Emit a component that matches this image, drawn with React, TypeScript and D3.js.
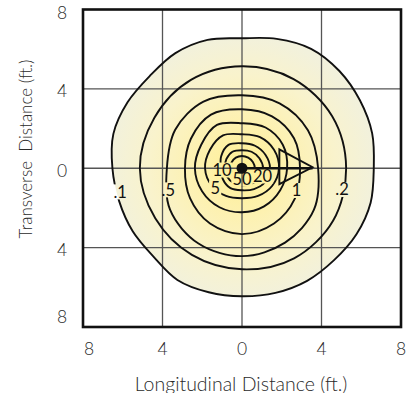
import React from 'react';
import * as d3 from 'd3';

const W = 409;
const H = 393;

// axis ticks (ft.)
const tickValues = [-8, -4, 0, 4, 8];
const tickLabels = ['8', '4', '0', '4', '8'];
const gridValues = [-4, 0, 4];

// contour levels and radii (ft.) read at evenly spaced angles (0° = +x, counter-clockwise)
const levelNames = ['.1', '.2', '.5', '1', '2', '5', '10', '20', '50'];
const r_01 = [6.63, 6.78, 6.85, 6.93, 6.95, 6.75, 6.55, 6.70, 6.70, 6.57, 6.65, 6.70, 6.52, 6.40, 6.35, 6.30, 6.50, 6.47, 6.45, 6.50, 6.55, 6.55, 6.65, 6.70];
const r_02 = [5.24, 5.24, 5.19, 5.14, 5.14, 5.09, 5.14, 5.04, 5.04, 5.09, 5.24, 5.29];
const r_05 = [3.83, 3.83, 3.78, 3.68, 3.88, 3.88, 3.78, 4.18, 4.38, 4.43, 4.33, 4.18];
const r_1 = [2.92, 3.02, 3.02, 2.97, 3.12, 2.97, 2.87, 3.02, 3.22, 3.32, 3.22, 3.07];
const r_2 = [2.27, 2.37, 2.37, 2.27, 2.52, 2.37, 2.37, 2.32, 2.27, 2.22, 2.22, 2.22];
const r_5 = [1.86, 1.86, 1.81, 1.71, 1.91, 1.86, 1.86, 1.76, 1.61, 1.51, 1.61, 1.76];
const r_10 = [1.41, 1.36, 1.31, 1.26, 1.36, 1.21, 1.06, 1.11, 1.16, 1.11, 1.21, 1.36];
const r_20 = [1.06, 1.01, 0.96, 0.91, 0.96, 0.91, 0.86, 0.86, 0.86, 0.86, 0.91, 1.01];
const r_50 = [0.65, 0.63, 0.62, 0.62, 0.62, 0.60, 0.58, 0.55, 0.55, 0.55, 0.58, 0.62];
const contourRadii = [r_01, r_02, r_05, r_1, r_2, r_5, r_10, r_20, r_50];

// contour labels (text, position in ft.)
const labelText = ['.1', '.5', '5', '10', '50', '20', '1', '.2'];
const labelX = [-6.13, -3.71, -1.35, -1.0, 0.0, 1.03, 2.74, 5.03];
const labelY = [-1.19, -1.09, -0.99, -0.09, -0.54, -0.39, -1.12, -1.07];

// direction arrow (ft.)
const arrowShaft: [number, number][] = [[0, 0], [3.55, 0]];
const arrowHead: [number, number][] = [[1.88, 0.95], [3.55, 0.05], [1.88, -0.8]];

const FONT = 'Lato, "Open Sans", sans-serif';

export default function App() {
  const x = d3.scaleLinear().domain([-8, 8]).range([83, 401]);
  const y = d3.scaleLinear().domain([-8, 8]).range([327, 9.5]);

  const pts = (radii: number[]) =>
    radii.map((r, i) => {
      const a = (i * 2 * Math.PI) / radii.length;
      return [x(r * Math.cos(a)), y(r * Math.sin(a))] as [number, number];
    });
  const closed = d3.line().curve(d3.curveCatmullRomClosed.alpha(0.5));
  const straight = d3.line();

  const charW = (s: string) => s.split('').reduce((acc, c) => acc + (c === '.' ? 4.5 : 9.2), 0);

  const cx = x(0);
  const cy = y(0);
  const gradR = x(6.7) - x(0);

  return (
    <svg width={W} height={H} style={{ position: 'absolute', left: 0, top: 0, background: '#fff' }}>
      <defs>
        <radialGradient id="glow" gradientUnits="userSpaceOnUse" cx={cx} cy={cy} r={gradR}>
          <stop offset="0" stopColor="#fff094" />
          <stop offset="0.35" stopColor="#fdf1b0" />
          <stop offset="0.7" stopColor="#f9f3cc" />
          <stop offset="1" stopColor="#f2f1dc" />
        </radialGradient>
        <mask id="gaps" maskUnits="userSpaceOnUse" x={0} y={0} width={W} height={H}>
          <rect x={0} y={0} width={W} height={H} fill="#fff" />
          {labelText.map((t, i) => {
            const w = charW(t) + 3;
            return (
              <rect key={i} x={x(labelX[i]) - w / 2} y={y(labelY[i]) - 7.5} width={w} height={15} fill="#000" />
            );
          })}
        </mask>
      </defs>

      {/* filled field */}
      <path d={closed(pts(r_01)) || ''} fill="url(#glow)" stroke="none" />

      {/* grid */}
      {gridValues.map((v) => (
        <line key={'gx' + v} x1={x(v)} x2={x(v)} y1={y(8)} y2={y(-8)} stroke="#555" strokeWidth={1.3} />
      ))}
      {gridValues.map((v) => (
        <line key={'gy' + v} x1={x(-8)} x2={x(8)} y1={y(v)} y2={y(v)} stroke="#555" strokeWidth={1.3} />
      ))}

      {/* contours */}
      <g mask="url(#gaps)">
        {contourRadii.map((radii, i) => (
          <path key={levelNames[i]} d={closed(pts(radii)) || ''} fill="none" stroke="#111" strokeWidth={1.9} strokeLinejoin="round" />
        ))}
      </g>

      {/* frame */}
      <rect x={x(-8)} y={y(8)} width={x(8) - x(-8)} height={y(-8) - y(8)} fill="none" stroke="#111" strokeWidth={2.6} />

      {/* arrow */}
      <path d={straight(arrowShaft.map(([a, b]) => [x(a), y(b)] as [number, number])) || ''} stroke="#111" strokeWidth={2.6} fill="none" />
      <path d={(straight(arrowHead.map(([a, b]) => [x(a), y(b)] as [number, number])) || '') + 'Z'} stroke="#111" strokeWidth={1.9} fill="none" strokeLinejoin="miter" />
      <circle cx={cx} cy={cy} r={5.5} fill="#111" />

      {/* contour labels */}
      {labelText.map((t, i) => (
        <text key={'l' + i} x={x(labelX[i])} y={y(labelY[i])} textAnchor="middle" dominantBaseline="central" fontFamily={FONT} fontSize={16.5} fill="#111">
          {t}
        </text>
      ))}

      {/* x tick labels */}
      {tickValues.map((v, i) => (
        <text key={'xt' + v} x={x(v) + (i === 0 ? 6 : 0)} y={348} textAnchor="middle" dominantBaseline="central" fontFamily={FONT} fontWeight={300} fontSize={17.5} fill="#2a2a2a">
          {tickLabels[i]}
        </text>
      ))}
      {/* y tick labels */}
      {tickValues.map((v, i) => (
        <text key={'yt' + v} x={62} y={y(v) + (i === 0 ? -11 : i === 4 ? 3 : 2)} textAnchor="middle" dominantBaseline="central" fontFamily={FONT} fontWeight={300} fontSize={17.5} fill="#2a2a2a">
          {tickLabels[i]}
        </text>
      ))}

      {/* axis titles */}
      <text x={241} y={383} textAnchor="middle" dominantBaseline="central" fontFamily={FONT} fontWeight={300} fontSize={19.5} fill="#2a2a2a">
        Longitudinal Distance (ft.)
      </text>
      <text transform={`translate(25,149) rotate(-90)`} textAnchor="middle" dominantBaseline="central" fontFamily={FONT} fontWeight={300} fontSize={17} fill="#2a2a2a" style={{ whiteSpace: 'pre' }}>
        {'Transverse  Distance (ft.)'}
      </text>
    </svg>
  );
}
